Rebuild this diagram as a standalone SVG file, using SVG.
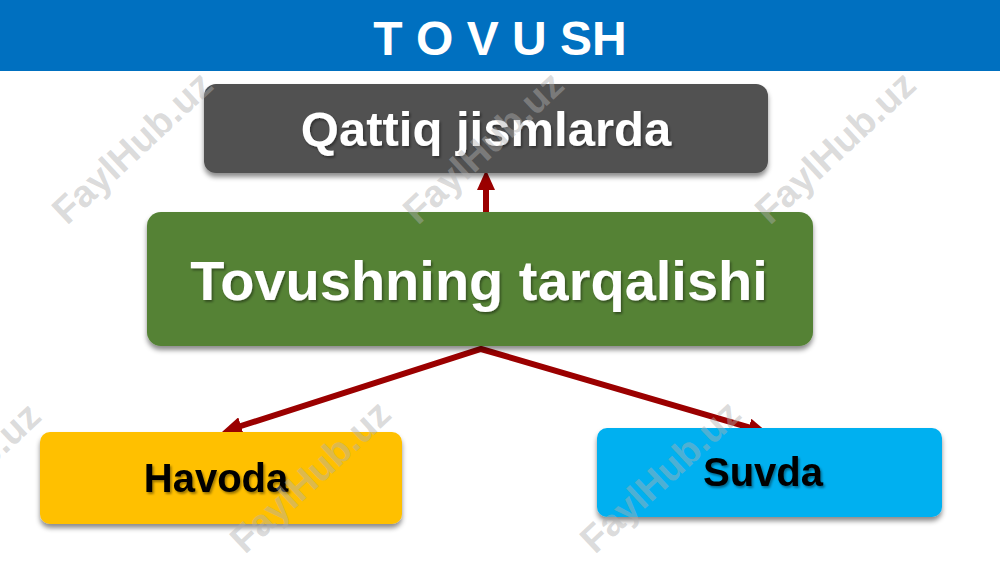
<svg xmlns="http://www.w3.org/2000/svg" width="1000" height="562" viewBox="0 0 1000 562">
  <style>
    .lbl { font-family: "Liberation Sans", Arial, sans-serif; font-weight: bold; text-anchor: middle; }
    .white { fill: #ffffff; }
    .black { fill: #000000; }
    .wm { font-family: "Liberation Sans", Arial, sans-serif; font-weight: bold; font-size: 38px; text-anchor: middle; fill: #b0b0b0; fill-opacity: 0.45; }
    .conn { fill: none; stroke: #9B0000; stroke-width: 6; stroke-linejoin: miter; }
  </style>
  <defs>
    <filter id="shadow" x="-10%" y="-20%" width="120%" height="150%">
      <feDropShadow dx="0" dy="4" stdDeviation="2.5" flood-color="#000000" flood-opacity="0.45"/>
    </filter>
    <filter id="tshadow" x="-10%" y="-20%" width="120%" height="150%">
      <feDropShadow dx="1.5" dy="2" stdDeviation="1.2" flood-color="#000000" flood-opacity="0.4"/>
    </filter>
    <marker id="arrow" viewBox="0 0 20 18" refX="10" refY="9" markerWidth="20" markerHeight="18" markerUnits="userSpaceOnUse" orient="auto-start-reverse">
      <path d="M0,0 L20,9 L0,18 z" fill="#9B0000"/>
    </marker>
  </defs>

  <rect x="0" y="0" width="1000" height="562" fill="#ffffff"/>

  <g id="header">
    <rect x="0" y="0" width="1000" height="71" fill="#0070C0"/>
    <text class="lbl white" x="500" y="55" font-size="48">T O V U SH</text>
  </g>

  <g id="connectors">
    <path class="conn" d="M486,212 L486,180" marker-end="url(#arrow)"/>
    <path class="conn" d="M231.5,429 L481,349 L758.4,430.2" marker-start="url(#arrow)" marker-end="url(#arrow)"/>
  </g>

  <g id="qattiq">
    <rect x="204" y="84" width="564" height="89" rx="12" fill="#515151" filter="url(#shadow)"/>
    <text class="lbl white" x="486" y="146" font-size="49" filter="url(#tshadow)">Qattiq jismlarda</text>
  </g>

  <g id="tarqalishi">
    <rect x="147" y="212" width="666" height="134" rx="14" fill="#548235" filter="url(#shadow)"/>
    <text class="lbl white" x="479" y="300" font-size="56" filter="url(#tshadow)">Tovushning tarqalishi</text>
  </g>

  <g id="havoda">
    <rect x="40" y="432" width="362" height="92" rx="10" fill="#FFC000" filter="url(#shadow)"/>
    <text class="lbl black" x="216" y="492" font-size="40" filter="url(#tshadow)">Havoda</text>
  </g>

  <g id="suvda">
    <rect x="597" y="428" width="345" height="89" rx="10" fill="#00B0F0" filter="url(#shadow)"/>
    <text class="lbl black" x="763" y="486" font-size="40" filter="url(#tshadow)">Suvda</text>
  </g>

  <g id="watermarks">
    <text class="wm" transform="translate(141,157) rotate(-43)">FaylHub.uz</text>
    <text class="wm" transform="translate(492,157) rotate(-43)">FaylHub.uz</text>
    <text class="wm" transform="translate(844,157) rotate(-43)">FaylHub.uz</text>
    <text class="wm" transform="translate(-31,488) rotate(-43)">FaylHub.uz</text>
    <text class="wm" transform="translate(319,486) rotate(-43)">FaylHub.uz</text>
    <text class="wm" transform="translate(669,486) rotate(-43)">FaylHub.uz</text>
  </g>
</svg>
